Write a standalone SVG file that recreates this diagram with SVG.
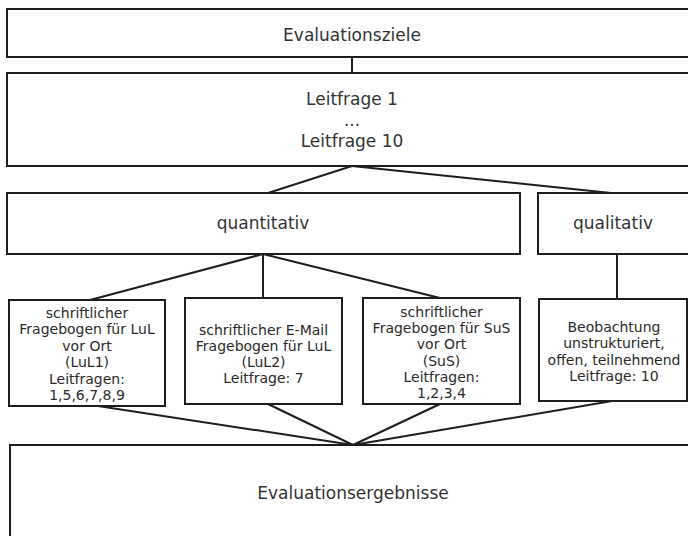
<svg xmlns="http://www.w3.org/2000/svg" width="688" height="536" viewBox="0 0 688 536">
<style>
.box{fill:#fff;stroke:#1e1e1e;stroke-width:2}
.ln{stroke:#1e1e1e;stroke-width:2;fill:none}
.big{font-family:"DejaVu Sans",Verdana,sans-serif;font-size:17px;fill:#333;text-anchor:middle}
.sm{font-family:"DejaVu Sans",Verdana,sans-serif;font-size:14px;fill:#2a2a2a;text-anchor:middle}
</style>
<rect width="688" height="536" fill="#fff"/>
<g id="connectors">
<line class="ln" x1="352" y1="57" x2="352" y2="73"/>
<line class="ln" x1="352" y1="166" x2="268" y2="193"/>
<line class="ln" x1="352" y1="166" x2="611" y2="193"/>
<line class="ln" x1="263" y1="254" x2="90" y2="300"/>
<line class="ln" x1="263" y1="254" x2="263" y2="298"/>
<line class="ln" x1="263" y1="254" x2="440" y2="298"/>
<line class="ln" x1="617" y1="254" x2="617" y2="299"/>
<line class="ln" x1="98" y1="406" x2="353" y2="445"/>
<line class="ln" x1="268" y1="404" x2="353" y2="445"/>
<line class="ln" x1="440" y1="404" x2="353" y2="445"/>
<line class="ln" x1="612" y1="401" x2="353" y2="445"/>
</g>
<g id="evaluationsziele">
<rect class="box" x="7" y="9" width="700" height="48"/>
<text class="big" x="352" y="41">Evaluationsziele</text>
</g>
<g id="leitfragen">
<rect class="box" x="7" y="73" width="700" height="93"/>
<text class="big" x="352" y="105">Leitfrage 1</text>
<text class="big" x="352" y="126">...</text>
<text class="big" x="352" y="147">Leitfrage 10</text>
</g>
<g id="quantitativ">
<rect class="box" x="7" y="193" width="513" height="61"/>
<text class="big" x="263" y="229">quantitativ</text>
</g>
<g id="qualitativ">
<rect class="box" x="538" y="193" width="170" height="61"/>
<text class="big" x="613" y="229">qualitativ</text>
</g>
<g id="lul1">
<rect class="box" x="9" y="300" width="156" height="106"/>
<text class="sm" x="87" y="318">schriftlicher</text>
<text class="sm" x="87" y="334.4">Fragebogen für LuL</text>
<text class="sm" x="87" y="350.8">vor Ort</text>
<text class="sm" x="87" y="367.2">(LuL1)</text>
<text class="sm" x="87" y="383.6">Leitfragen:</text>
<text class="sm" x="87" y="400">1,5,6,7,8,9</text>
</g>
<g id="lul2">
<rect class="box" x="185" y="298" width="157" height="106"/>
<text class="sm" x="263.5" y="335">schriftlicher E-Mail</text>
<text class="sm" x="263.5" y="351">Fragebogen für LuL</text>
<text class="sm" x="263.5" y="367">(LuL2)</text>
<text class="sm" x="263.5" y="382.5">Leitfrage: 7</text>
</g>
<g id="sus">
<rect class="box" x="363" y="298" width="157" height="106"/>
<text class="sm" x="441.5" y="317">schriftlicher</text>
<text class="sm" x="441.5" y="333.2">Fragebogen für SuS</text>
<text class="sm" x="441.5" y="349.4">vor Ort</text>
<text class="sm" x="441.5" y="365.6">(SuS)</text>
<text class="sm" x="441.5" y="381.8">Leitfragen:</text>
<text class="sm" x="441.5" y="398">1,2,3,4</text>
</g>
<g id="beobachtung">
<rect class="box" x="539" y="299" width="148" height="102"/>
<text class="sm" x="614" y="332">Beobachtung</text>
<text class="sm" x="614" y="348.4">unstrukturiert,</text>
<text class="sm" x="614" y="364.8">offen, teilnehmend</text>
<text class="sm" x="614" y="381">Leitfrage: 10</text>
</g>
<g id="evaluationsergebnisse">
<rect class="box" x="10" y="445" width="700" height="100"/>
<text class="big" x="353" y="499">Evaluationsergebnisse</text>
</g>
</svg>
